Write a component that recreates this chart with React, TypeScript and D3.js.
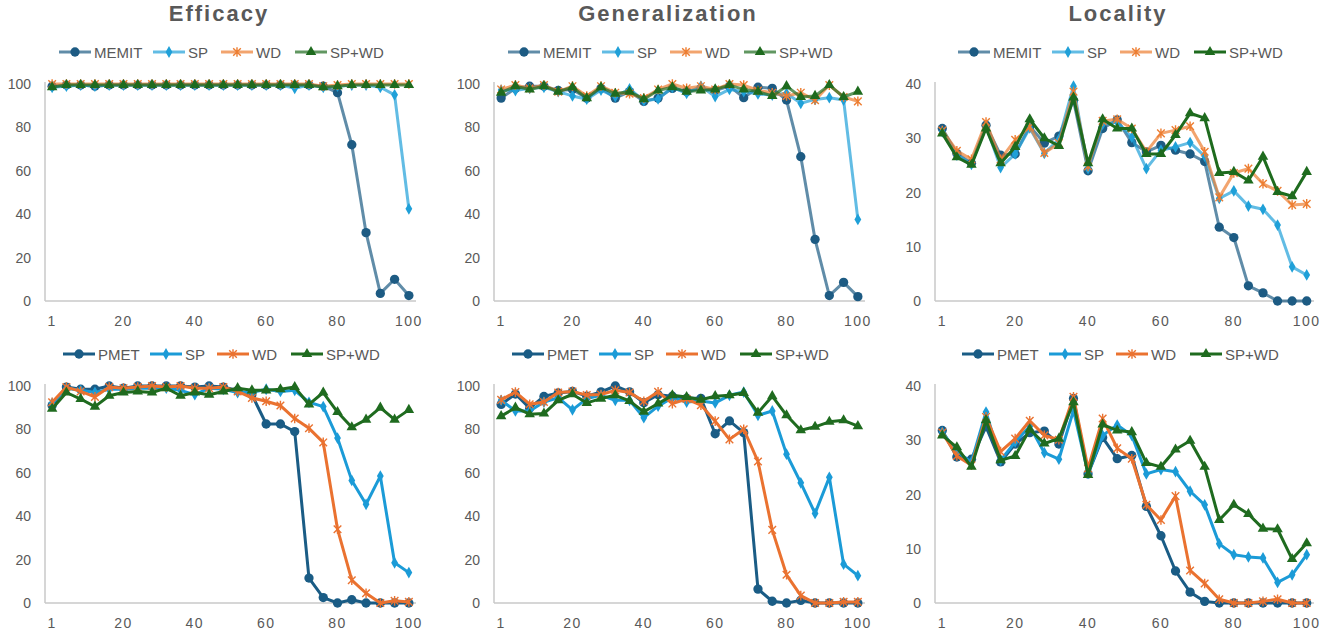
import React from 'react';
import * as d3 from 'd3';

// x categories (edit steps) and the labels shown on the axis
const steps = [1, 4, 8, 12, 16, 20, 24, 28, 32, 36, 40, 44, 48, 52, 56, 60, 64, 68, 72, 76, 80, 84, 88, 92, 96, 100];
const xTickLabels = [1, 20, 40, 60, 80, 100];
const pctTicks = [0, 20, 40, 60, 80, 100];
const locTicks = [0, 10, 20, 30, 40];

const topNames = ['MEMIT', 'SP', 'WD', 'SP+WD'];
const bottomNames = ['PMET', 'SP', 'WD', 'SP+WD'];

// ---- top row (MEMIT) ----
const effMemit = [99, 99.5, 99.5, 99, 99.5, 99.5, 99.5, 99.5, 99.5, 99.5, 99.5, 99.5, 99.5, 99.5, 99.5, 99.5, 99.5, 99.5, 99.5, 99, 96, 72, 31.5, 3.5, 10, 2.5];
const effSp = [98.5, 99, 99.5, 99, 99.5, 99.5, 99.5, 99.5, 99.5, 99.5, 99.5, 99.5, 99.5, 99.5, 99.5, 99.5, 99.5, 98, 99.5, 98.5, 99, 99.5, 99.5, 98.5, 95, 42.5];
const effWd = [100, 100, 100, 100, 100, 100, 100, 100, 100, 100, 100, 100, 100, 100, 100, 100, 100, 100, 100, 99, 99.5, 100, 100, 100, 100, 100];
const effSpWd = [98.5, 99.5, 99.5, 99.5, 99.5, 99.5, 99.5, 99.5, 99.5, 99.5, 99.5, 99.5, 99.5, 99.5, 99.5, 99.5, 99.5, 99.5, 99.5, 98.5, 99, 99.5, 99.5, 99.5, 99.5, 99.5];

const genMemit = [93.5, 98, 99, 99, 97, 97.5, 93.5, 98, 93.5, 96.5, 92, 93.5, 98, 96.5, 98, 97, 99, 93.7, 98.5, 98, 92.6, 66.5, 28.4, 2.5, 8.6, 2];
const genSp = [97.2, 97, 98, 98.5, 96.5, 94.5, 93, 97.2, 94.2, 97.7, 92.3, 93.1, 98.5, 95.7, 99, 94.2, 97.5, 96.5, 95.4, 94.9, 95.7, 91.1, 92.9, 93.7, 92.6, 37.6];
const genWd = [97.5, 99.5, 98, 99.5, 96.5, 99, 94.5, 99, 96, 95.5, 93.5, 97.5, 100, 98, 99, 97.5, 100, 99.5, 97, 96, 94.5, 96, 92.5, 99.5, 94, 92];
const genSpWd = [96, 99, 97.5, 99, 96.5, 98.5, 93.5, 98.5, 95.5, 96.5, 93, 97, 98.5, 96.5, 97, 97.5, 99.5, 97.5, 96.5, 94.5, 99, 94, 94.5, 99.5, 94, 96.5];

const locMemit = [31.8, 27.2, 25.4, 32.4, 26.9, 27.1, 32.2, 29.1, 30.4, 37, 24, 31.8, 33.4, 29.2, 27.5, 28.7, 27.8, 27.1, 25.7, 13.6, 11.7, 2.8, 1.5, 0, 0, 0];
const locSp = [31.2, 26.9, 25.2, 32.2, 24.6, 27.1, 31.9, 27.2, 29.8, 39.6, 24.4, 32.6, 33, 30.2, 24.4, 27.8, 28.4, 29.2, 26.7, 18.9, 20.3, 17.5, 16.9, 14, 6.3, 4.8];
const locWd = [31.4, 27.7, 26.1, 33, 26.1, 29.7, 32.1, 27.3, 29.1, 38.6, 24.8, 33.2, 33.5, 31.8, 27.5, 30.9, 31.5, 32.2, 27.5, 19.1, 23.6, 24.4, 21.6, 20.3, 17.7, 17.9];
const locSpWd = [30.9, 26.5, 25.1, 31.8, 25.4, 28.4, 33.5, 30, 28.6, 37.5, 25.4, 33.5, 31.8, 31.8, 27.1, 27.1, 30.6, 34.6, 33.7, 23.6, 23.8, 22.2, 26.6, 20.1, 19.3, 23.8];

// ---- bottom row (PMET) ----
const effPmet = [91, 99.5, 98.5, 98.5, 100, 99, 100, 100, 100, 100, 99.5, 100, 99.5, 98, 96, 82.5, 82.5, 79, 11.5, 2.5, 0, 1.5, 0, 0, 0, 0];
const effPSp = [92, 99, 98, 97, 98.5, 98.5, 99, 99, 99, 98, 96, 99, 98.5, 97, 97, 98.5, 97.5, 98, 92.5, 90.5, 76, 56.5, 45.5, 58.5, 18.5, 14];
const effPWd = [92.5, 99.5, 97.5, 95, 99.5, 99, 99.5, 100, 99.5, 100, 99, 99, 99.5, 97.5, 94.5, 93, 91, 85, 80.5, 74, 34, 10.5, 4.5, 0, 1, 0.5];
const effPSpWd = [89.5, 97, 94, 90.5, 95.5, 97, 97.5, 97, 99, 95.5, 97, 96, 97.5, 99, 98, 98, 98.5, 99.5, 91.5, 97, 88, 81, 84.5, 90, 84.5, 89];

const genPmet = [91.5, 96.3, 89.8, 95.2, 96.8, 97.5, 95.3, 97.3, 100, 97.3, 92.3, 96, 95.3, 94.3, 94.3, 78, 83.9, 78.5, 6.4, 0.8, 0, 1.2, 0, 0, 0, 0];
const genPSp = [93.4, 88.5, 88.5, 92.6, 94.6, 89, 94.2, 95.7, 93.4, 93.4, 85.4, 90.7, 94.6, 92.6, 93.1, 92.2, 95.7, 97.2, 86.5, 88.5, 68.6, 55.4, 41.3, 57.9, 17.9, 12.6];
const genPWd = [93.6, 97.2, 91.6, 92.6, 97, 97.5, 95.8, 96.1, 98, 97, 93, 97.3, 91.9, 94, 91.2, 83.8, 75.4, 80.1, 65.2, 33.7, 13, 3.4, 0, 0, 0.5, 0.5];
const genPSpWd = [86.1, 90, 87, 87.3, 93.4, 96.2, 92.2, 94.2, 95.7, 93.1, 88.1, 91.9, 95.7, 94.9, 93.7, 95.3, 95.7, 96.8, 87.7, 95.3, 86.5, 79.6, 81.2, 83.5, 84.2, 81.5];

const locPmet = [31.8, 26.9, 26.5, 32.5, 26, 29.3, 31.4, 31.7, 29.3, 37.7, 23.8, 30.5, 26.6, 27.2, 17.8, 12.4, 5.9, 2, 0.3, 0, 0, 0, 0, 0, 0, 0];
const locPSp = [31.5, 27.9, 26, 35.2, 26.3, 29.7, 32.6, 27.7, 26.5, 35.5, 23.9, 30.9, 32.8, 30.9, 23.8, 24.6, 24.2, 20.6, 18.1, 10.9, 8.9, 8.5, 8.3, 3.8, 5.2, 8.9];
const locPWd = [31.4, 27.1, 25.4, 34.3, 27.9, 30.3, 33.6, 30.9, 30.1, 38, 24.8, 34, 28.5, 26.6, 18.1, 15.3, 19.7, 6, 3.6, 0.7, 0, 0, 0.3, 0.7, 0, 0];
const locPSpWd = [30.9, 28.7, 25.1, 33.7, 26.3, 27.1, 32, 29.4, 30.3, 37, 23.6, 32.9, 31.8, 31.5, 25.8, 25.1, 28.3, 29.9, 25.1, 15.3, 18.1, 16.4, 13.7, 13.6, 8.1, 11];

const topColors = ['#1d5b83', '#1fa0d8', '#ed7d31', '#1e6b1e'];
const bottomColors = ['#1a5c85', '#1b9bd7', '#ea7230', '#1f6b1f'];
const shapes = ['circle', 'diamond', 'star', 'triangle'];

const cols = [
  { x0: 45, x1: 416, center: 219 },
  { x0: 494, x1: 865, center: 668 },
  { x0: 935, x1: 1314, center: 1118 },
];
const rows = [
  { yTop: 84, yBottom: 301, legendY: 52, legendStart: -160, legendOffsets: [0, 94, 162, 236] },
  { yTop: 386, yBottom: 603, legendY: 354, legendStart: -156, legendOffsets: [0, 87, 154, 228] },
];

const panels = [
  { title: 'Efficacy', col: 0, row: 0, max: 100, ticks: pctTicks, names: topNames, data: [effMemit, effSp, effWd, effSpWd], fade: [0.7, 0.7, 0.7, 0.7] },
  { title: 'Generalization', col: 1, row: 0, max: 100, ticks: pctTicks, names: topNames, data: [genMemit, genSp, genWd, genSpWd], fade: [0.7, 0.7, 0.7, 0.7] },
  { title: 'Locality', col: 2, row: 0, max: 40, ticks: locTicks, names: topNames, data: [locMemit, locSp, locWd, locSpWd], fade: [0.7, 0.7, 0.7, 1] },
  { title: '', col: 0, row: 1, max: 100, ticks: pctTicks, names: bottomNames, data: [effPmet, effPSp, effPWd, effPSpWd], fade: [1, 1, 1, 1] },
  { title: '', col: 1, row: 1, max: 100, ticks: pctTicks, names: bottomNames, data: [genPmet, genPSp, genPWd, genPSpWd], fade: [1, 1, 1, 1] },
  { title: '', col: 2, row: 1, max: 40, ticks: locTicks, names: bottomNames, data: [locPmet, locPSp, locPWd, locPSpWd], fade: [1, 1, 1, 1] },
];

const FONT = '"Liberation Sans", Arial, sans-serif';
const TEXT = '#595959';

function Marker({ shape, x, y, color }: { shape: string; x: number; y: number; color: string }) {
  if (shape === 'star') {
    const s = 3.8;
    return (
      <path
        transform={`translate(${x},${y})`}
        d={`M${-s},${-s}L${s},${s}M${-s},${s}L${s},${-s}M0,${-s - 1}L0,${s + 1}`}
        stroke={color}
        strokeWidth={1.4}
        fill="none"
      />
    );
  }
  const sym = shape === 'circle' ? d3.symbolCircle : shape === 'diamond' ? d3.symbolDiamond : d3.symbolTriangle;
  const size = shape === 'circle' ? 68 : shape === 'diamond' ? 40 : 48;
  return <path transform={`translate(${x},${y})`} d={d3.symbol(sym, size)() || ''} fill={color} />;
}

function Panel({ p }: { p: (typeof panels)[number] }) {
  const c = cols[p.col];
  const r = rows[p.row];
  const colors = p.row === 0 ? topColors : bottomColors;
  const x = d3.scalePoint<number>().domain(steps).range([c.x0, c.x1]).padding(0.5);
  const y = d3.scaleLinear().domain([0, p.max]).range([r.yBottom, r.yTop]);
  const line = d3
    .line<number>()
    .x((_, i) => x(steps[i]) as number)
    .y((d) => y(d));
  const legendX = c.center + r.legendStart;

  return (
    <g>
      {p.title && (
        <text x={c.center} y={21} textAnchor="middle" fontFamily={FONT} fontWeight="bold" fontSize={22} letterSpacing={2} fill={TEXT}>
          {p.title}
        </text>
      )}
      {/* legend */}
      {p.names.map((name, i) => {
        const lx = legendX + r.legendOffsets[i];
        return (
          <g key={name}>
            <line x1={lx} x2={lx + 32} y1={r.legendY} y2={r.legendY} stroke={colors[i]} strokeOpacity={p.fade[i]} strokeWidth={3} />
            <Marker shape={shapes[i]} x={lx + 16} y={r.legendY} color={colors[i]} />
            <text x={lx + 35} y={r.legendY + 5.5} fontFamily={FONT} fontSize={15} fill={TEXT}>
              {name}
            </text>
          </g>
        );
      })}
      {/* axes */}
      <line x1={c.x0} x2={c.x0} y1={r.yTop - 2} y2={r.yBottom} stroke="#c8c8c8" strokeWidth={1.5} />
      <line x1={c.x0} x2={c.x1} y1={r.yBottom} y2={r.yBottom} stroke="#c8c8c8" strokeWidth={1.5} />
      {p.ticks.map((t) => (
        <text key={t} x={c.x0 - 14} y={y(t)} dy="0.36em" textAnchor="end" fontFamily={FONT} fontSize={14} fill={TEXT}>
          {t}
        </text>
      ))}
      {xTickLabels.map((t) => (
        <text key={t} x={x(t)} y={r.yBottom + 25} textAnchor="middle" fontFamily={FONT} fontSize={14} letterSpacing={1.5} fill={TEXT}>
          {t}
        </text>
      ))}
      {/* series */}
      {p.data.map((vals, i) => (
        <g key={i}>
          <path d={line(vals) || ''} fill="none" stroke={colors[i]} strokeOpacity={p.fade[i]} strokeWidth={3} strokeLinejoin="round" />
          {vals.map((v, j) => (
            <Marker key={j} shape={shapes[i]} x={x(steps[j]) as number} y={y(v)} color={colors[i]} />
          ))}
        </g>
      ))}
    </g>
  );
}

export default function App() {
  return (
    <svg width={1340} height={637} style={{ position: 'absolute', left: 0, top: 0, background: '#fff' }}>
      {panels.map((p, i) => (
        <Panel key={i} p={p} />
      ))}
    </svg>
  );
}
